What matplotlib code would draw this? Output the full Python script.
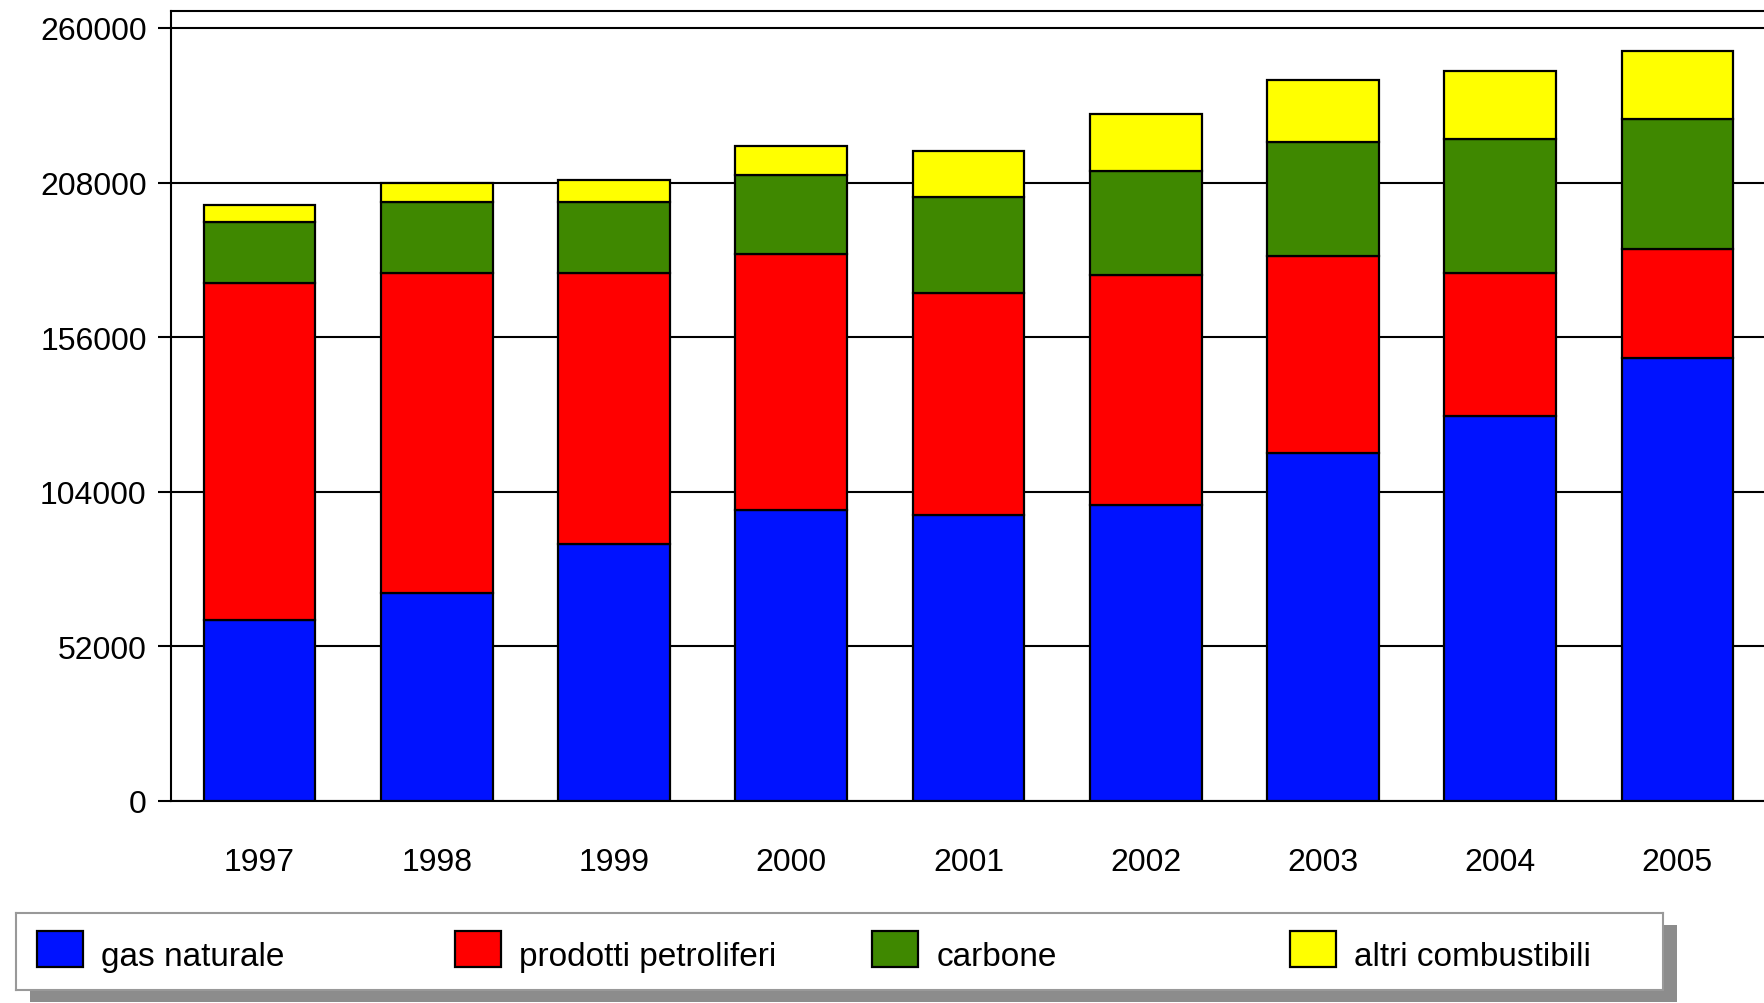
import matplotlib
matplotlib.use("Agg")
import matplotlib.pyplot as plt
from matplotlib.patches import Rectangle
import numpy as np

plt.rcParams["font.family"] = ["Liberation Sans", "DejaVu Sans"]

years = ["1997", "1998", "1999", "2000", "2001", "2002", "2003", "2004", "2005"]
gas_naturale = [61000, 70000, 86500, 97900, 96300, 99600, 117000, 129500, 149000]
prodotti_petroliferi = [113200, 107500, 91000, 86100, 74700, 77200, 66300, 48000, 36800]
carbone = [20600, 23900, 23900, 26400, 32000, 35000, 38500, 45000, 43500]
altri_combustibili = [5800, 6300, 7400, 9800, 15600, 19100, 20600, 23100, 22800]

series_names = ["gas naturale", "prodotti petroliferi", "carbone", "altri combustibili"]
series_values = [gas_naturale, prodotti_petroliferi, carbone, altri_combustibili]
colors = ["#0012FF", "#FF0000", "#3F8800", "#FFFF00"]
y_ticks = [0, 52000, 104000, 156000, 208000, 260000]

W, H = 1765, 1004
fig = plt.figure(figsize=(W / 100, H / 100), dpi=100)

ax = fig.add_axes([171 / W, 1 - 802 / H, (1766 - 171) / W, (802 - 12) / H])
x = np.arange(len(years))
bottom = np.zeros(len(years))
for name, vals, col in zip(series_names, series_values, colors):
    ax.bar(x, vals, 0.63, bottom=bottom, color=col, edgecolor="black", linewidth=1.6, label=name, zorder=3)
    bottom += np.array(vals)

ax.set_xlim(-0.5, 8.5)
ax.set_ylim(0, 265700)
ax.set_yticks(y_ticks)
ax.set_yticklabels([str(v) for v in y_ticks])
ax.set_xticks(x)
ax.set_xticklabels(years)
ax.grid(axis="y", color="black", linewidth=1.5, zorder=0)
ax.set_axisbelow(True)
ax.tick_params(axis="y", direction="out", length=9.5, width=1.5, pad=8, labelsize=23)
ax.tick_params(axis="x", length=0, pad=33, labelsize=23)
for side in ["left", "top", "bottom"]:
    ax.spines[side].set_linewidth(1.5)
ax.spines["right"].set_visible(False)

# legend box with drop shadow
lx0, ly0, lx1, ly1 = 16, 914, 1663, 991
fig.add_artist(Rectangle(((lx0 + 14) / W, 1 - (ly1 + 12) / H), (lx1 - lx0) / W, (ly1 - ly0) / H,
                         transform=fig.transFigure, facecolor="#8c8c8c", edgecolor="none", zorder=1))
leg = fig.add_axes([lx0 / W, 1 - ly1 / H, (lx1 - lx0) / W, (ly1 - ly0) / H], zorder=2)
leg.set_xlim(0, lx1 - lx0)
leg.set_ylim(ly1 - ly0, 0)
leg.set_xticks([])
leg.set_yticks([])
for s in leg.spines.values():
    s.set_edgecolor("#999999")
    s.set_linewidth(1.5)
for i, (name, col) in enumerate(zip(series_names, colors)):
    x0 = 21 + i * 417.7
    leg.add_patch(Rectangle((x0, 18), 46, 36, facecolor=col, edgecolor="black", linewidth=1.6))
    leg.text(x0 + 64, 44, name, fontsize=24, va="center", ha="left")

fig.savefig("out.png", dpi=100)
